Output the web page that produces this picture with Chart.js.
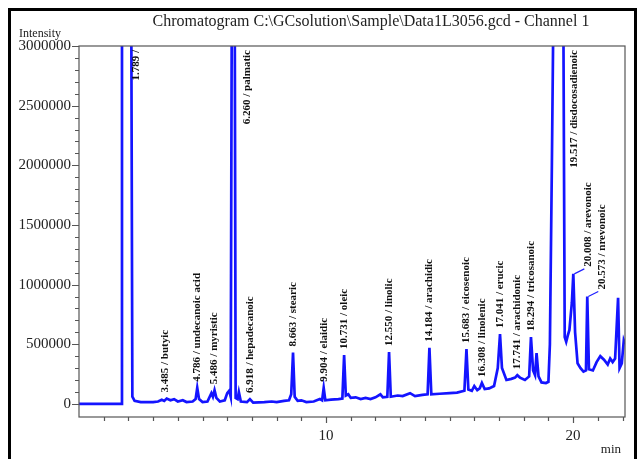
<!DOCTYPE html>
<html><head><meta charset="utf-8">
<script src="https://cdn.jsdelivr.net/npm/chart.js@4.4.1/dist/chart.umd.min.js"></script>
<style>
html,body{margin:0;padding:0;background:#fff;width:639px;height:459px;overflow:hidden}
#frame{position:absolute;left:8px;top:8px;width:623px;height:470px;border:3px solid #000;border-bottom:none}
canvas{position:absolute;left:0;top:0}
</style></head><body>
<div id="frame"></div>
<canvas id="c" width="639" height="459"></canvas>
<script>
// ---- data ----
const retentionTimes = [0.0,1.70,1.74,2.10,2.16,2.25,2.5,2.8,3.0,3.2,3.35,3.45,3.55,3.7,3.85,4.0,4.2,4.35,4.6,4.72,4.786,4.86,5.0,5.2,5.36,5.42,5.486,5.56,5.7,5.9,6.0,6.08,6.14,6.20,6.29,6.34,6.42,6.47,6.55,6.8,6.918,7.05,7.5,7.8,8.0,8.3,8.5,8.59,8.663,8.73,8.85,9.0,9.2,9.5,9.75,9.84,9.904,9.97,10.2,10.5,10.66,10.731,10.80,10.9,11.0,11.2,11.4,11.6,11.8,12.0,12.2,12.3,12.48,12.55,12.62,12.9,13.1,13.4,13.6,13.9,14.11,14.184,14.26,14.6,15.0,15.3,15.6,15.683,15.76,15.9,16.0,16.12,16.22,16.308,16.42,16.6,16.8,16.95,17.041,17.12,17.3,17.5,17.65,17.741,17.85,18.05,18.22,18.294,18.38,18.46,18.52,18.60,18.72,18.9,19.0,19.06,19.14,19.26,19.58,19.66,19.72,19.78,19.85,19.95,20.008,20.08,20.18,20.3,20.42,20.52,20.573,20.64,20.8,20.95,21.1,21.25,21.4,21.5,21.6,21.7,21.82,21.88,21.97,22.05,22.1];
const intensities = [0,0,4500000,4500000,60000,25000,15000,15000,15000,20000,35000,25000,45000,30000,40000,20000,30000,15000,20000,40000,135000,40000,15000,20000,90000,60000,115000,50000,20000,30000,90000,110000,60000,4500000,4500000,50000,40000,100000,20000,15000,40000,10000,15000,20000,15000,25000,30000,80000,430000,60000,25000,30000,15000,20000,40000,30000,135000,30000,35000,40000,45000,410000,70000,80000,50000,55000,40000,50000,40000,55000,80000,55000,60000,435000,60000,70000,65000,90000,65000,75000,80000,470000,80000,85000,90000,95000,110000,460000,120000,110000,150000,115000,130000,175000,125000,130000,150000,300000,585000,300000,200000,210000,220000,240000,220000,200000,230000,560000,280000,240000,425000,230000,180000,175000,185000,500000,2000000,4500000,4500000,560000,520000,570000,620000,850000,1090000,600000,340000,300000,270000,280000,900000,290000,280000,350000,400000,370000,330000,380000,350000,380000,890000,300000,340000,530000,500000];

const peakTimes  = [1.789,3.485,4.786,5.486,6.260,6.918,8.663,9.904,10.731,12.550,14.184,15.683,16.308,17.041,17.741,18.294,19.517,20.008,20.573];
const peakTops   = [null,45000,135000,115000,null,40000,430000,135000,410000,435000,470000,460000,175000,585000,240000,560000,null,1090000,900000];
const peakNames  = ['1.789 /','3.485 / butyic','4.786 / undecanoic acid','5.486 / myristic','6.260 / palmatic','6.918 / hepadecanoic','8.663 / stearic','9.904 / elaidic','10.731 / oleic','12.550 / linolic','14.184 / arachidic','15.683 / eicosenoic','16.308 / linolenic','17.041 / erucic','17.741 / arachidonic','18.294 / tricosanoic','19.517 / disdocosadienoic','20.008 / arevonoic','20.573 / nrevonoic'];

const yTickValues  = [0,500000,1000000,1500000,2000000,2500000,3000000];
const yMinorTicks  = [100000,200000,300000,400000,600000,700000,800000,900000,1100000,1200000,1300000,1400000,1600000,1700000,1800000,1900000,2100000,2200000,2300000,2400000,2600000,2700000,2800000,2900000];
const xTickValues  = [10,20];
const xMinorTicks  = [1,2,3,4,5,6,7,8,9,11,12,13,14,15,16,17,18,19,21,22];

// ---- styles ----
const SERIF = '"Liberation Serif","Times New Roman",serif';
const leaderLabels = [17,18];   // indices of labels moved aside with a leader line

const points = retentionTimes.map((t,i)=>({x:t,y:intensities[i]}));

const decor = {
  id:'decor',
  afterDatasetsDraw(chart){
    const {ctx, chartArea:a, scales:{x,y}} = chart;
    ctx.save();
    // frame
    ctx.strokeStyle = '#555'; ctx.lineWidth = 1.2;
    ctx.strokeRect(a.left, a.top, a.right-a.left, a.bottom-a.top);
    // ticks
    ctx.beginPath();
    yTickValues.forEach(v=>{const p=Math.round(y.getPixelForValue(v))+0.5; ctx.moveTo(a.left,p); ctx.lineTo(a.left-7,p);});
    yMinorTicks.forEach(v=>{const p=Math.round(y.getPixelForValue(v))+0.5; ctx.moveTo(a.left,p); ctx.lineTo(a.left-4,p);});
    xTickValues.forEach(v=>{const p=Math.round(x.getPixelForValue(v))+0.5; ctx.moveTo(p,a.bottom); ctx.lineTo(p,a.bottom+6);});
    xMinorTicks.forEach(v=>{const p=Math.round(x.getPixelForValue(v))+0.5; ctx.moveTo(p,a.bottom); ctx.lineTo(p,a.bottom+4);});
    ctx.stroke();
    // texts
    ctx.fillStyle = '#222';
    ctx.font = '16px '+SERIF;
    ctx.textAlign = 'center'; ctx.textBaseline = 'middle';
    ctx.fillText('Chromatogram C:\\GCsolution\\Sample\\Data1L3056.gcd - Channel 1', 371, 22);
    ctx.font = '12px '+SERIF;
    ctx.textAlign = 'left';
    ctx.fillText('Intensity', 19, 34);
    ctx.font = '13px '+SERIF;
    ctx.textAlign = 'right';
    ctx.fillText('min', a.right-4, 450);
    // peak labels
    ctx.fillStyle = '#111';
    ctx.font = 'bold 11px '+SERIF;
    ctx.textBaseline = 'middle';
    ctx.strokeStyle = '#2020ff'; ctx.lineWidth = 1.2;
    peakTimes.forEach((t,i)=>{
      const px = x.getPixelForValue(t);
      let lx, ly, align;
      if (peakTops[i] === null) {
        lx = px + 13; ly = a.top + 4; align = 'right';
      } else if (leaderLabels.includes(i)) {
        const py = y.getPixelForValue(peakTops[i]);
        lx = px + 15; ly = py - 7; align = 'left';
        ctx.beginPath(); ctx.moveTo(px+1, py); ctx.lineTo(lx-4, py-5); ctx.stroke();
      } else {
        const py = y.getPixelForValue(peakTops[i]);
        lx = px; ly = py - 6; align = 'left';
      }
      ctx.save();
      ctx.translate(lx, ly);
      ctx.rotate(-Math.PI/2);
      ctx.textAlign = align;
      ctx.fillText(peakNames[i], 0, 0);
      ctx.restore();
    });
    ctx.restore();
  }
};

new Chart(document.getElementById('c'), {
  type:'scatter',
  data:{datasets:[{data:points, showLine:true, borderColor:'#1414ff', borderWidth:2.7, pointRadius:0, tension:0, fill:false}]},
  options:{
    responsive:false, animation:false, events:[],
    layout:{padding:{left:0,right:14,top:46,bottom:0}},
    plugins:{legend:{display:false},tooltip:{enabled:false},title:{display:false}},
    scales:{
      x:{type:'linear', min:0, max:22.1,
         afterBuildTicks(s){ s.ticks = xTickValues.map(v=>({value:v})); },
         afterFit(s){ s.height = 42; },
         grid:{display:true, drawOnChartArea:false, drawTicks:false}, border:{display:false},
         ticks:{font:{family:SERIF,size:15}, color:'#222', padding:10, maxRotation:0}},
      y:{type:'linear', min:-110000, max:3000000,
         afterBuildTicks(s){ s.ticks = yTickValues.map(v=>({value:v})); },
         afterFit(s){ s.width = 79; },
         grid:{display:true, drawOnChartArea:false, drawTicks:false}, border:{display:false},
         ticks:{font:{family:SERIF,size:15}, color:'#222', padding:8, callback:v=>String(v)}}
    }
  },
  plugins:[decor]
});
</script>
</body></html>
